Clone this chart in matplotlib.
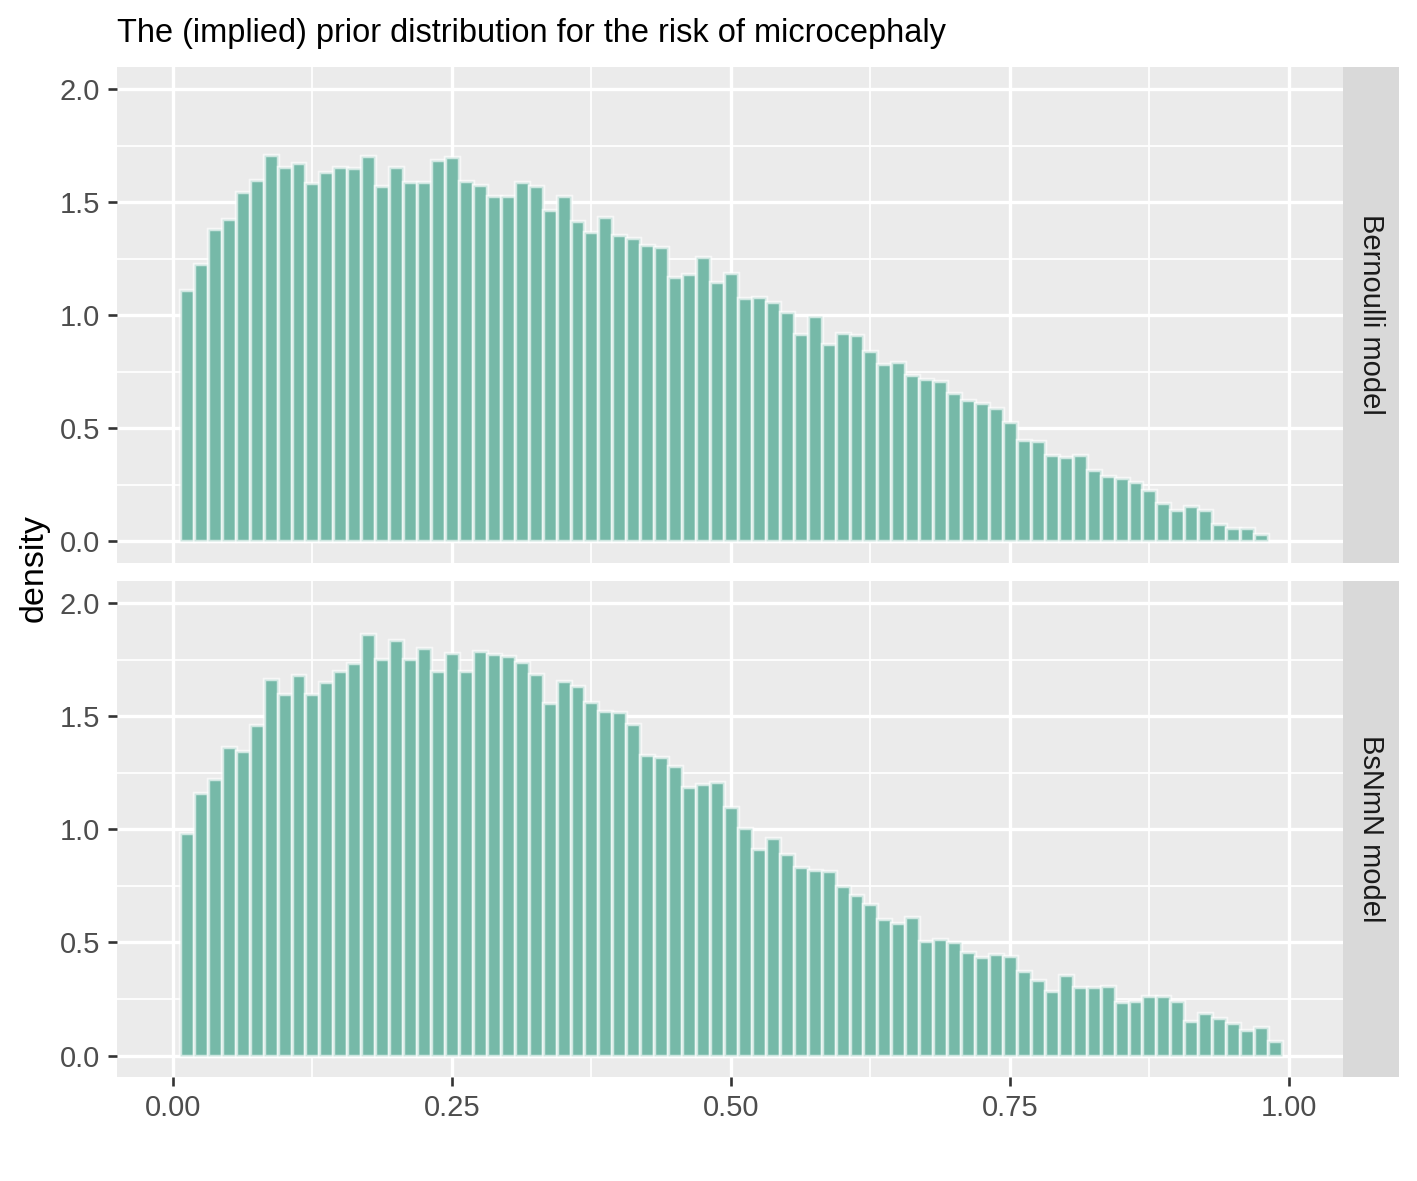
import numpy as np
import matplotlib
matplotlib.use("Agg")
import matplotlib.pyplot as plt
from matplotlib.ticker import FixedLocator

plt.rcParams['font.family'] = ['Liberation Sans', 'DejaVu Sans']

title = "The (implied) prior distribution for the risk of microcephaly"
ylabel = "density"
panel_labels = ["Bernoulli model", "BsNmN model"]

bin_width = 0.0125
n_bins = 79
bin_centers = bin_width * np.arange(1, n_bins + 1)

bernoulli_density = [
    1.109, 1.224, 1.379, 1.423, 1.544, 1.599, 1.708, 1.654, 1.671, 1.585,
    1.633, 1.654, 1.649, 1.702, 1.569, 1.654, 1.590, 1.590, 1.685, 1.700,
    1.593, 1.577, 1.527, 1.525, 1.588, 1.569, 1.466, 1.527, 1.417, 1.367,
    1.434, 1.355, 1.341, 1.310, 1.301, 1.168, 1.181, 1.255, 1.146, 1.185,
    1.074, 1.080, 1.056, 1.012, 0.917, 0.996, 0.872, 0.920, 0.912, 0.842,
    0.783, 0.791, 0.733, 0.717, 0.707, 0.656, 0.622, 0.609, 0.588, 0.525,
    0.448, 0.442, 0.381, 0.370, 0.381, 0.313, 0.289, 0.278, 0.261, 0.226,
    0.168, 0.139, 0.154, 0.139, 0.075, 0.059, 0.058, 0.031, 0.000,
]

bsnmn_density = [
    0.982, 1.161, 1.224, 1.366, 1.346, 1.463, 1.665, 1.600, 1.683, 1.600,
    1.650, 1.702, 1.736, 1.863, 1.752, 1.838, 1.755, 1.800, 1.702, 1.778,
    1.698, 1.788, 1.776, 1.767, 1.738, 1.686, 1.558, 1.654, 1.633, 1.565,
    1.522, 1.519, 1.465, 1.327, 1.319, 1.282, 1.189, 1.199, 1.211, 1.097,
    1.008, 0.915, 0.962, 0.893, 0.835, 0.819, 0.816, 0.748, 0.709, 0.668,
    0.603, 0.584, 0.611, 0.506, 0.516, 0.504, 0.459, 0.435, 0.450, 0.438,
    0.375, 0.333, 0.286, 0.355, 0.301, 0.301, 0.308, 0.238, 0.243, 0.262,
    0.264, 0.243, 0.152, 0.186, 0.168, 0.145, 0.115, 0.127, 0.065,
]

series = [bernoulli_density, bsnmn_density]

x_ticks = [0.0, 0.25, 0.5, 0.75, 1.0]
x_tick_labels = ["0.00", "0.25", "0.50", "0.75", "1.00"]
y_ticks = [0.0, 0.5, 1.0, 1.5, 2.0]
y_tick_labels = ["0.0", "0.5", "1.0", "1.5", "2.0"]

W, H = 1417, 1181
fig = plt.figure(figsize=(W / 100, H / 100), dpi=100)

fill = "#76b9a8"
panel_bg = "#EBEBEB"
strip_bg = "#D9D9D9"

left = 116.7 / W
pw = (1343.3 - 116.7) / W
sw = (1399 - 1343.3) / W
panels_px = [(66.7, 562.7), (580.7, 1077.3)]

for i, (top_px, bot_px) in enumerate(panels_px):
    b = 1 - bot_px / H
    h = (bot_px - top_px) / H
    ax = fig.add_axes([left, b, pw, h])
    ax.set_facecolor(panel_bg)
    for s in ax.spines.values():
        s.set_visible(False)
    ax.set_xlim(-0.0504, 1.0487)
    ax.set_ylim(-0.096, 2.099)
    ax.xaxis.set_major_locator(FixedLocator(x_ticks))
    ax.xaxis.set_minor_locator(FixedLocator([0.125, 0.375, 0.625, 0.875]))
    ax.yaxis.set_major_locator(FixedLocator(y_ticks))
    ax.yaxis.set_minor_locator(FixedLocator([0.25, 0.75, 1.25, 1.75]))
    ax.grid(which='major', color='white', linewidth=2.4, zorder=0)
    ax.grid(which='minor', color='white', linewidth=1.25, zorder=0)
    ax.set_axisbelow(True)
    ax.bar(bin_centers, series[i], width=bin_width, color=fill,
           edgecolor=(1, 1, 1, 0.65), linewidth=2.5, zorder=2)
    ax.set_yticks(y_ticks)
    ax.set_yticklabels(y_tick_labels)
    ax.tick_params(axis='y', which='major', length=6.3, width=1.9,
                   color='#333333', labelcolor='#4D4D4D', labelsize=21, pad=5.5)
    ax.tick_params(which='minor', length=0)
    if i == 0:
        ax.tick_params(axis='x', which='major', length=0, labelbottom=False)
    else:
        ax.set_xticks(x_ticks)
        ax.set_xticklabels(x_tick_labels)
        ax.tick_params(axis='x', which='major', length=6.3, width=1.9,
                       color='#333333', labelcolor='#4D4D4D', labelsize=21, pad=5.5)
    sax = fig.add_axes([left + pw, b, sw, h])
    sax.set_facecolor(strip_bg)
    sax.set_xticks([])
    sax.set_yticks([])
    for s in sax.spines.values():
        s.set_visible(False)
    sax.text(0.5, 0.5, panel_labels[i], rotation=-90, ha='center', va='center',
             fontsize=21, color='#1A1A1A', transform=sax.transAxes)

fig.text(117 / W, 1 - 41.7 / H, title, ha='left', va='baseline',
         fontsize=23.45, color='black')
fig.text(34 / W, 1 - 568.5 / H, ylabel, rotation=90, ha='center', va='center',
         fontsize=24.5, color='black')

fig.savefig("out.png", dpi=100)
